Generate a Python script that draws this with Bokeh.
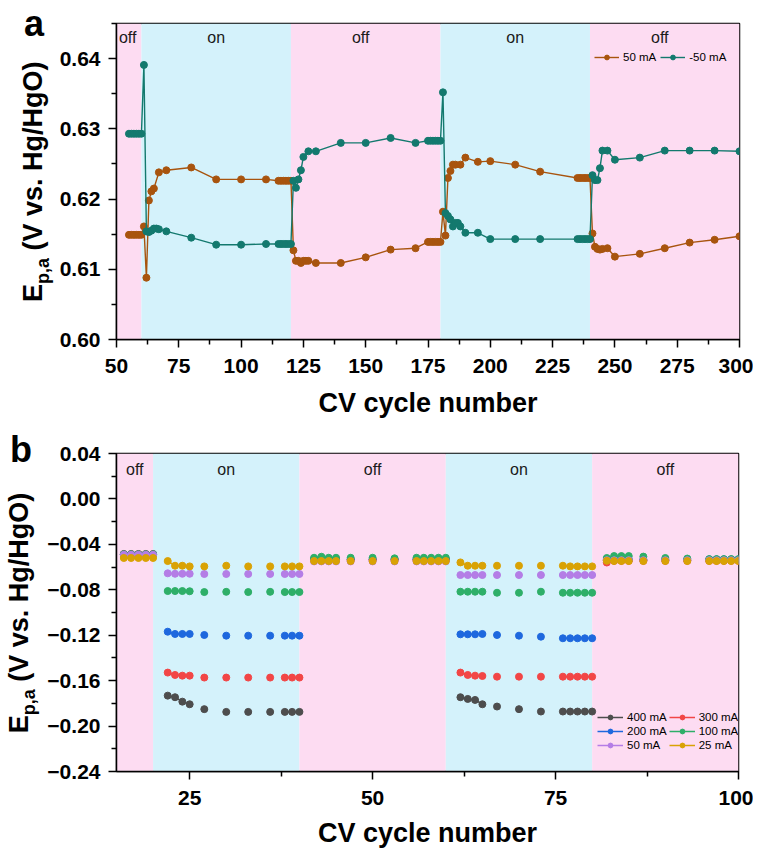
import numpy as np
from bokeh.plotting import figure
from bokeh.layouts import column, row
from bokeh.models import (FixedTicker, Range1d, BoxAnnotation, Legend,
                          LegendItem, ColumnDataSource)
from bokeh.core.properties import value
from bokeh.embed import file_html
from bokeh.resources import INLINE

FONT = "Liberation Sans"

# ---------------- Panel a data ----------------
a_cycle_pos = [55, 56, 57, 58, 59, 60, 61, 62, 63, 64, 65, 67, 70, 80, 90, 100, 110,
               115, 116, 117, 118, 119, 120, 121, 122, 123, 124, 125, 126, 127, 130,
               140, 150, 160, 170, 175, 176, 177, 178, 179, 180, 181, 182, 183, 184,
               185, 186, 188, 190, 195, 200, 210, 220, 235, 236, 237, 238, 239, 240,
               241, 242, 243, 244, 245, 247, 250, 260, 270, 280, 290, 300]
a_E_pos = [0.6149, 0.6149, 0.6149, 0.6149, 0.6149, 0.6149, 0.6161, 0.6088, 0.6198,
           0.6211, 0.6215, 0.6238, 0.6241, 0.6245, 0.6228, 0.6228, 0.6228,
           0.6226, 0.6226, 0.6226, 0.6226, 0.6226, 0.6226, 0.6127, 0.6112, 0.6112,
           0.6109, 0.6112, 0.6112, 0.6112, 0.6109, 0.6109, 0.6117, 0.6128, 0.6130,
           0.6139, 0.6139, 0.6139, 0.6139, 0.6139, 0.6139, 0.6182, 0.6148, 0.6230,
           0.6240, 0.6249, 0.6249, 0.6249, 0.6259, 0.6253, 0.6254, 0.6249, 0.6239,
           0.6230, 0.6230, 0.6230, 0.6230, 0.6230, 0.6230, 0.6151, 0.6132, 0.6129,
           0.6128, 0.6129, 0.6130, 0.6118, 0.6122, 0.6130, 0.6138, 0.6142, 0.6147]

a_cycle_neg = [55, 56, 57, 58, 59, 60, 61, 62, 63, 64, 65, 66, 67, 70, 80, 90, 100, 110,
               115, 116, 117, 118, 119, 120, 121, 122, 123, 124, 125, 127, 130, 140,
               150, 160, 170, 175, 176, 177, 178, 179, 180, 181, 182, 183, 184, 185,
               186, 187, 188, 190, 195, 200, 210, 220, 235, 236, 237, 238, 239, 240,
               241, 242, 243, 244, 245, 247, 250, 260, 270, 280, 290, 300]
a_E_neg = [0.6293, 0.6293, 0.6293, 0.6293, 0.6293, 0.6293, 0.6391, 0.6154, 0.6153,
           0.6155, 0.6158, 0.6158, 0.6157, 0.6154, 0.6145, 0.6135, 0.6135, 0.6136,
           0.6136, 0.6136, 0.6136, 0.6136, 0.6136, 0.6136, 0.6226, 0.6216, 0.6228,
           0.6241, 0.6260, 0.6268, 0.6268, 0.6280, 0.6280, 0.6287, 0.6280,
           0.6283, 0.6283, 0.6283, 0.6283, 0.6283, 0.6283, 0.6352, 0.6180, 0.6176,
           0.6171, 0.6161, 0.6166, 0.6166, 0.6161, 0.6152, 0.6152, 0.6143, 0.6143,
           0.6143, 0.6143, 0.6143, 0.6143, 0.6143, 0.6143, 0.6143, 0.6234, 0.6227,
           0.6227, 0.6244, 0.6269, 0.6269, 0.6256, 0.6259, 0.6269, 0.6269, 0.6269,
           0.6268]

a_band_left = [50, 60, 120, 180, 240]
a_band_right = [60, 120, 180, 240, 300]
a_band_state = ["off", "on", "off", "on", "off"]
a_label_x = [54.5, 90, 148, 210, 268]
a_xticks = [50, 75, 100, 125, 150, 175, 200, 225, 250, 275, 300]
a_yticks = [0.60, 0.61, 0.62, 0.63, 0.64]
a_ytick_labels = ["0.60", "0.61", "0.62", "0.63", "0.64"]
a_series_labels = ["50 mA", "-50 mA"]

# ---------------- Panel b data ----------------
b_cycle = [16, 17, 18, 19, 20,
           22, 23, 24, 25, 27, 30, 33, 36, 38, 39, 40,
           42, 43, 44, 45, 47, 50, 53, 56, 57, 58, 59, 60,
           62, 63, 64, 65, 67, 70, 73, 76, 77, 78, 79, 80,
           82, 83, 84, 85, 87, 90, 93, 96, 97, 98, 99, 100]
b_400mA = [-0.0485, -0.0485, -0.0485, -0.0485, -0.0485,
           -0.1732, -0.1746, -0.1785, -0.1808, -0.1851, -0.1875, -0.1875, -0.1875, -0.1875, -0.1875, -0.1875,
           -0.0533, -0.0535, -0.0535, -0.0535, -0.0535, -0.0535, -0.0536, -0.0535, -0.0535, -0.0535, -0.0535, -0.0535,
           -0.1746, -0.1761, -0.1770, -0.1808, -0.1828, -0.1851, -0.1872, -0.1872, -0.1872, -0.1872, -0.1872, -0.1872,
           -0.0540, -0.0540, -0.0540, -0.0540, -0.0540, -0.0540, -0.0540, -0.0540, -0.0540, -0.0540, -0.0540, -0.0540]
b_300mA = [-0.0487, -0.0487, -0.0487, -0.0487, -0.0487,
           -0.1529, -0.1550, -0.1556, -0.1556, -0.1573, -0.1573, -0.1573, -0.1573, -0.1573, -0.1573, -0.1573,
           -0.0538, -0.0538, -0.0538, -0.0538, -0.0538, -0.0538, -0.0538, -0.0538, -0.0538, -0.0538, -0.0538, -0.0538,
           -0.1529, -0.1550, -0.1556, -0.1559, -0.1565, -0.1565, -0.1565, -0.1565, -0.1565, -0.1565, -0.1565, -0.1565,
           -0.0560, -0.0545, -0.0545, -0.0545, -0.0545, -0.0545, -0.0545, -0.0545, -0.0545, -0.0545, -0.0545, -0.0545]
b_200mA = [-0.0489, -0.0489, -0.0489, -0.0489, -0.0489,
           -0.1169, -0.1189, -0.1189, -0.1189, -0.1198, -0.1204, -0.1204, -0.1204, -0.1204, -0.1204, -0.1204,
           -0.0530, -0.0530, -0.0530, -0.0530, -0.0530, -0.0530, -0.0530, -0.0530, -0.0530, -0.0530, -0.0530, -0.0530,
           -0.1192, -0.1192, -0.1192, -0.1189, -0.1198, -0.1204, -0.1213, -0.1227, -0.1227, -0.1227, -0.1227, -0.1227,
           -0.0532, -0.0532, -0.0532, -0.0532, -0.0532, -0.0532, -0.0532, -0.0532, -0.0532, -0.0532, -0.0532, -0.0532]
b_100mA = [-0.0488, -0.0488, -0.0488, -0.0488, -0.0488,
           -0.0811, -0.0811, -0.0811, -0.0813, -0.0820, -0.0818, -0.0820, -0.0818, -0.0820, -0.0820, -0.0820,
           -0.0518, -0.0509, -0.0518, -0.0518, -0.0518, -0.0518, -0.0523, -0.0518, -0.0518, -0.0518, -0.0518, -0.0518,
           -0.0817, -0.0817, -0.0817, -0.0817, -0.0826, -0.0826, -0.0817, -0.0826, -0.0826, -0.0826, -0.0826, -0.0826,
           -0.0520, -0.0503, -0.0503, -0.0503, -0.0508, -0.0520, -0.0525, -0.0530, -0.0530, -0.0530, -0.0530, -0.0530]
b_50mA = [-0.0492, -0.0492, -0.0492, -0.0492, -0.0492,
          -0.0655, -0.0659, -0.0659, -0.0659, -0.0661, -0.0661, -0.0661, -0.0661, -0.0661, -0.0661, -0.0661,
          -0.0550, -0.0550, -0.0550, -0.0550, -0.0550, -0.0550, -0.0550, -0.0550, -0.0550, -0.0550, -0.0550, -0.0550,
          -0.0670, -0.0670, -0.0670, -0.0670, -0.0670, -0.0670, -0.0670, -0.0670, -0.0670, -0.0670, -0.0670, -0.0670,
          -0.0540, -0.0540, -0.0540, -0.0540, -0.0540, -0.0540, -0.0540, -0.0540, -0.0540, -0.0540, -0.0540, -0.0540]
b_25mA = [-0.0520, -0.0520, -0.0520, -0.0520, -0.0520,
          -0.0547, -0.0588, -0.0588, -0.0594, -0.0594, -0.0588, -0.0594, -0.0594, -0.0594, -0.0594, -0.0594,
          -0.0547, -0.0547, -0.0547, -0.0547, -0.0547, -0.0547, -0.0547, -0.0547, -0.0547, -0.0547, -0.0547, -0.0547,
          -0.0559, -0.0588, -0.0588, -0.0588, -0.0588, -0.0588, -0.0588, -0.0588, -0.0594, -0.0594, -0.0594, -0.0594,
          -0.0545, -0.0547, -0.0547, -0.0547, -0.0547, -0.0547, -0.0547, -0.0547, -0.0547, -0.0547, -0.0547, -0.0547]
b_series_labels = ["400 mA", "300 mA", "200 mA", "100 mA", "50 mA", "25 mA"]
b_series_values = [b_400mA, b_300mA, b_200mA, b_100mA, b_50mA, b_25mA]

b_band_left = [15, 20, 40, 60, 80]
b_band_right = [20, 40, 60, 80, 100]
b_band_state = ["off", "on", "off", "on", "off"]
b_xticks = [25, 50, 75, 100]
b_yticks = [-0.24, -0.20, -0.16, -0.12, -0.08, -0.04, 0.00, 0.04]
b_ytick_labels = ["\u22120.24", "\u22120.20", "\u22120.16", "\u22120.12", "\u22120.08",
                  "\u22120.04", "0.00", "0.04"]

YLABEL_PARTS = ["E", "p,a", "(V vs. Hg/HgO)"]
PANEL_LETTERS = ["a", "b"]

# ---------------- styles ----------------
A_COLORS = ["#A8540E", "#13796E"]
B_COLORS = ["#4D4D4D", "#F24646", "#1E68DE", "#2EAF68", "#B47DE6", "#D9A204"]
BAND_COLORS = {"off": "#FDDCF2", "on": "#D4F2FB"}
MID = 0.3465   # distance (in em) from the baseline up to the middle of the text box


def style_axes(p, xticks, yticks, ytick_labels, xminor, yminor, title_standoff):
    p.xaxis.ticker = FixedTicker(ticks=xticks, minor_ticks=xminor)
    p.yaxis.ticker = FixedTicker(ticks=yticks, minor_ticks=yminor)
    p.yaxis.major_label_overrides = {t: s for t, s in zip(yticks, ytick_labels)}
    for ax in (p.xaxis[0], p.yaxis[0]):
        ax.axis_line_color = "black"
        ax.axis_line_width = 1.5
        ax.major_tick_line_color = "black"
        ax.major_tick_line_width = 1.5
        ax.minor_tick_line_color = "black"
        ax.minor_tick_line_width = 1.5
        ax.major_tick_in = 0
        ax.major_tick_out = 8
        ax.minor_tick_in = 0
        ax.minor_tick_out = 5
        ax.major_label_text_font = FONT
        ax.major_label_text_font_style = "bold"
        ax.major_label_text_font_size = "21px"
        ax.major_label_text_color = "black"
    p.yaxis.major_label_standoff = 8
    p.xaxis.major_label_standoff = 11
    p.xaxis.axis_label = "CV cycle number"
    p.xaxis.axis_label_standoff = title_standoff
    p.xaxis.axis_label_text_font = FONT
    p.xaxis.axis_label_text_font_style = "bold"
    p.xaxis.axis_label_text_font_size = "27px"
    p.xaxis.axis_label_text_color = "black"
    p.xgrid.visible = False
    p.ygrid.visible = False
    p.outline_line_color = "black"
    p.outline_line_width = 1.5
    p.outline_line_alpha = 1.0


def add_bands(p, lefts, rights, states):
    for l, r, s in zip(lefts, rights, states):
        p.add_layout(BoxAnnotation(left=l, right=r, fill_color=BAND_COLORS[s],
                                   fill_alpha=1.0, line_alpha=0, level="underlay"))


def label_panel(width, height, letter, letter_x, letter_base_from_top,
                ylab_base_x, ylab_center_from_top):
    """Narrow figure, whose frame is the whole canvas, that carries the panel letter
    and the rotated y-axis title (data units = pixels, y measured from the bottom)."""
    lp = figure(width=width, height=height, x_range=Range1d(0, width), y_range=Range1d(0, height),
                output_backend="svg", toolbar_location=None,
                x_axis_location=None, y_axis_location=None,
                min_border_left=0, min_border_right=0, min_border_top=0, min_border_bottom=0,
                background_fill_color="white", border_fill_color="white")
    lp.frame_align = False
    lp.outline_line_color = None
    lp.grid.visible = False
    lp.text(x=[letter_x], y=[height - (letter_base_from_top - MID * 36)], text=[letter],
            text_font=value(FONT), text_font_style="bold", text_font_size="36px",
            text_color="black", text_align="left", text_baseline="middle")
    sizes = [27, 18, 27]
    shifts = [0, 6, 0]
    advances = [18.0, 26.0 + 7.5, 189.0]   # widths along the text (space before the bracket)
    y = (height - ylab_center_from_top) - sum(advances) / 2
    for txt, fs, dx, w in zip(YLABEL_PARTS, sizes, shifts, advances):
        lp.text(x=[ylab_base_x + dx - MID * fs], y=[y], text=[txt], angle=90, angle_units="deg",
                text_font=value(FONT), text_font_style="bold", text_font_size=f"{fs}px",
                text_color="black", text_align="left", text_baseline="middle")
        y += w
    return lp


# ---------------- Panel a ----------------
PA_H = 420
pa = figure(width=698, height=PA_H, x_range=Range1d(50, 300), y_range=Range1d(0.60, 0.645),
            output_backend="svg", toolbar_location=None,
            min_border_left=61, min_border_right=14, min_border_top=23, min_border_bottom=80,
            background_fill_color="white", border_fill_color="white")
pa.frame_align = False
add_bands(pa, a_band_left, a_band_right, a_band_state)
style_axes(pa, a_xticks, a_yticks, a_ytick_labels,
           [(a_xticks[i] + a_xticks[i + 1]) / 2 for i in range(len(a_xticks) - 1)],
           [(a_yticks[i] + a_yticks[i + 1]) / 2 for i in range(len(a_yticks) - 1)] + [0.645], 12)

pa.text(x=a_label_x, y=[0.645] * len(a_label_x), text=a_band_state,
        text_font=value(FONT), text_font_size="16px", text_color="#1a1a1a",
        text_align="center", text_baseline="top", y_offset=5)

a_items = []
for xs, ys, col, lab in zip([a_cycle_pos, a_cycle_neg], [a_E_pos, a_E_neg], A_COLORS, a_series_labels):
    src = ColumnDataSource(dict(x=xs, y=ys))
    r1 = pa.line("x", "y", source=src, line_color=col, line_width=1.4)
    r2 = pa.scatter("x", "y", source=src, marker="circle", size=7, fill_color=col, line_color=col)
    a_items.append(LegendItem(label=lab, renderers=[r1, r2]))

leg_a = Legend(items=a_items, orientation="horizontal", location=(478, 276),
               background_fill_alpha=0, border_line_alpha=0, padding=0, margin=0,
               spacing=4, label_standoff=4, glyph_width=25, glyph_height=12, label_height=12,
               label_text_font=FONT, label_text_font_size="11.5px", label_text_color="black")
pa.add_layout(leg_a)
la = label_panel(55, PA_H, PANEL_LETTERS[0], 23.5, 35, 42.3, 181.3)

# ---------------- Panel b ----------------
PB_H = 430
pb = figure(width=709, height=PB_H, x_range=Range1d(15, 100), y_range=Range1d(-0.24, 0.04),
            output_backend="svg", toolbar_location=None,
            min_border_left=70, min_border_right=15, min_border_top=33, min_border_bottom=79,
            background_fill_color="white", border_fill_color="white")
pb.frame_align = False
add_bands(pb, b_band_left, b_band_right, b_band_state)
style_axes(pb, b_xticks, b_yticks, b_ytick_labels, [37.5, 62.5, 87.5],
           [(b_yticks[i] + b_yticks[i + 1]) / 2 for i in range(len(b_yticks) - 1)], 10)

b_label_x = [(l + r) / 2 for l, r in zip(b_band_left, b_band_right)]
pb.text(x=b_label_x, y=[0.04] * len(b_label_x), text=b_band_state,
        text_font=value(FONT), text_font_size="16px", text_color="#1a1a1a",
        text_align="center", text_baseline="top", y_offset=7)

cyc = np.array(b_cycle)
breaks = np.where(np.diff(cyc) > 1.5)[0] + 1
segments = np.split(np.arange(len(cyc)), breaks)

b_items = []
for vals, col, lab in zip(b_series_values, B_COLORS, b_series_labels):
    vals = np.array(vals)
    rends = []
    for seg in segments:
        src = ColumnDataSource(dict(x=cyc[seg], y=vals[seg]))
        r1 = pb.line("x", "y", source=src, line_color=col, line_width=1.5)
        r2 = pb.scatter("x", "y", source=src, marker="circle", size=7, fill_color=col, line_color=col)
        rends.append((r1, r2))
    b_items.append(LegendItem(label=lab, renderers=[rends[0][0], rends[0][1]]))

leg_b = Legend(items=b_items, orientation="horizontal", ncols=2, location=(481, 20),
               background_fill_alpha=0, border_line_alpha=0, padding=0, margin=0,
               spacing=2, label_standoff=4, glyph_width=26, glyph_height=12, label_height=12,
               label_text_font=FONT, label_text_font_size="11.5px", label_text_color="black")
pb.add_layout(leg_b)
lb = label_panel(44, PB_H, PANEL_LETTERS[1], 9.6, 41.7, 28.3, 192.5)

layout = column(row(la, pa, spacing=0), row(lb, pb, spacing=0), spacing=0)
open("out.html", "w").write(file_html(layout, INLINE))
